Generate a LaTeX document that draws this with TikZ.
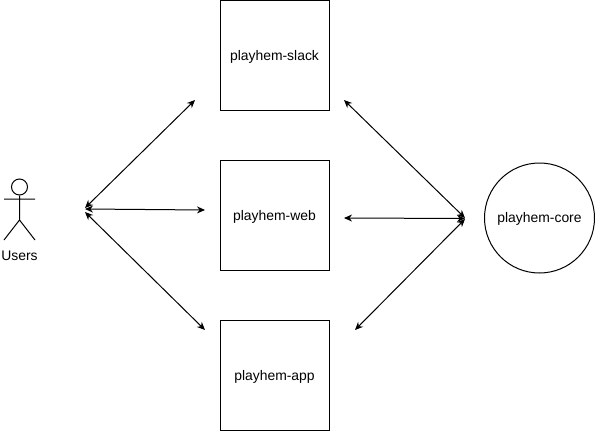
\documentclass[tikz,border=0pt]{standalone}
\usepackage{fontspec}
\setmainfont{Liberation Sans}
\usetikzlibrary{arrows.meta}
\newcommand{\lowertext}[2]{\raisebox{-#1}[\height][\depth]{#2}}
\tikzset{x=1pt,y=-1pt,
labelfont/.style={font=\fontsize{13.9}{16}\selectfont},
boxn/.style={draw=black,line width=1pt,minimum width=109pt,minimum height=110pt,inner sep=0,labelfont,fill=white},
link/.style={draw=black,line width=1pt,{Stealth[length=8pt,width=7pt]}-{Stealth[length=8pt,width=7pt]}},
actor/.style={draw=black,line width=1pt}}
\begin{document}
\begin{tikzpicture}
\useasboundingbox (0,0) rectangle (595,431);
\node[boxn] (slack) at (274.5,55) {\lowertext{2pt}{playhem-slack}};
\node[boxn] (web) at (274.5,215) {\lowertext{2pt}{playhem-web}};
\node[boxn] (app) at (274.5,375) {\lowertext{2pt}{playhem-app}};
\node[draw=black,line width=1pt,circle,minimum size=110pt,inner sep=0,labelfont] (core) at (539.5,218) {\lowertext{1pt}{playhem-core}};
\node[circle,draw=black,line width=1pt,minimum size=16pt,inner sep=0] (head) at (19.5,187) {};
\coordinate (hip) at (19.5,220);
\coordinate (armL) at (4,199);
\coordinate (armR) at (35,199);
\coordinate (footL) at (4,240);
\coordinate (footR) at (35,240);
\draw[actor] (head.south) -- (hip) (armL) -- (armR) (hip) -- (footL) (hip) -- (footR);
\node[labelfont] (users) at (19.5,255.5) {Users};
\coordinate (ua) at (85,208);
\coordinate (ub) at (85,209);
\coordinate (uc) at (85,212);
\coordinate (sl) at (195,100);
\coordinate (we) at (205,210);
\coordinate (ap) at (205,330);
\coordinate (sr) at (344,100);
\coordinate (wr) at (344,218);
\coordinate (ar) at (355,330);
\coordinate (ca) at (465,218);
\coordinate (cb) at (465,218.5);
\coordinate (cc) at (465,219);
\draw[link] (ua) -- (sl);
\draw[link] (ub) -- (we);
\draw[link] (uc) -- (ap);
\draw[link] (sr) -- (ca);
\draw[link] (wr) -- (cb);
\draw[link] (ar) -- (cc);
\end{tikzpicture}
\end{document}
